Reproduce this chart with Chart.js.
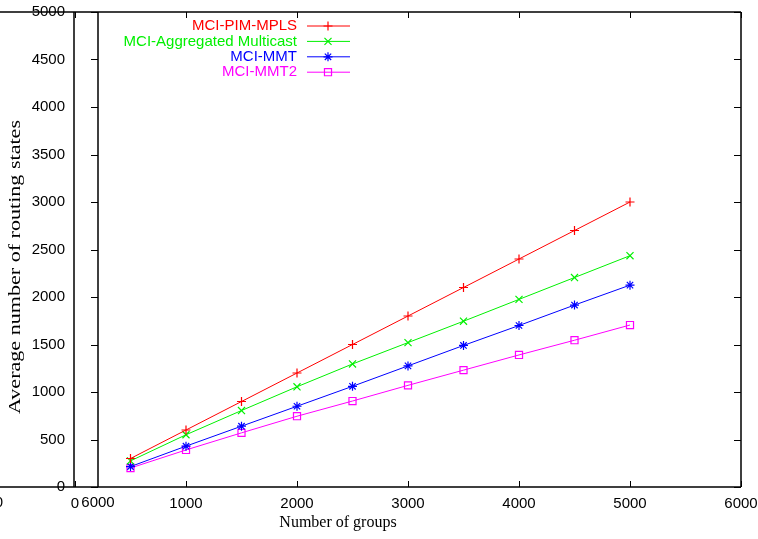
<!DOCTYPE html>
<html>
<head>
<meta charset="utf-8">
<script src="https://cdn.jsdelivr.net/npm/chart.js@4/dist/chart.umd.min.js"></script>
<style>
  html, body { margin: 0; padding: 0; background: #fff; }
  canvas { display: block; }
</style>
</head>
<body>
<canvas id="myChart" width="758" height="539"></canvas>
<script>
const groups = [500, 1000, 1500, 2000, 2500, 3000, 3500, 4000, 4500, 5000];
const pimMpls = [300, 600, 900, 1200, 1500, 1800, 2100, 2400, 2700, 3000];
const aggregated = [275, 550, 805, 1055, 1295, 1520, 1745, 1975, 2205, 2435];
const mmt = [215, 430, 640, 850, 1060, 1275, 1490, 1700, 1915, 2125];
const mmt2 = [200, 390, 570, 745, 905, 1070, 1230, 1390, 1545, 1705];
const xTicks = [0, 1000, 2000, 3000, 4000, 5000, 6000];
const yTicks = [0, 500, 1000, 1500, 2000, 2500, 3000, 3500, 4000, 4500, 5000];

const toPoints = (vals) => groups.map((g, i) => ({ x: g, y: vals[i] }));

const series = [
  { label: 'MCI-PIM-MPLS', data: pimMpls, color: '#ff0000', style: 'cross', r: 4.5 },
  { label: 'MCI-Aggregated Multicast', data: aggregated, color: '#00f000', style: 'crossRot', r: 5 },
  { label: 'MCI-MMT', data: mmt, color: '#0000ff', style: 'star', r: 4.5 },
  { label: 'MCI-MMT2', data: mmt2, color: '#ff00ff', style: 'rect', r: 5 }
];

// gnuplot style frame, ticks, titles and key
const gnuplotPlugin = {
  id: 'gnuplotPlugin',
  afterDraw(chart) {
    const { ctx, chartArea: a, scales } = chart;
    const ghostRight = a.left + 23;
    ctx.save();
    ctx.strokeStyle = '#000';
    ctx.lineWidth = 1.5;

    // frame
    ctx.beginPath();
    ctx.moveTo(0, a.top); ctx.lineTo(a.right, a.top);
    ctx.moveTo(0, a.bottom); ctx.lineTo(a.right, a.bottom);
    ctx.moveTo(a.left - 1, a.top); ctx.lineTo(a.left - 1, a.bottom);
    ctx.moveTo(ghostRight, a.top); ctx.lineTo(ghostRight, a.bottom);
    ctx.moveTo(a.right, a.top); ctx.lineTo(a.right, a.bottom);
    ctx.stroke();

    // tick marks
    ctx.lineWidth = 1;
    ctx.beginPath();
    xTicks.forEach(v => {
      const px = Math.round(scales.x.getPixelForValue(v)) + 0.5;
      ctx.moveTo(px, a.top); ctx.lineTo(px, a.top + 6);
      ctx.moveTo(px, a.bottom); ctx.lineTo(px, a.bottom - 6);
    });
    yTicks.forEach(v => {
      const py = Math.round(scales.y.getPixelForValue(v)) + 0.5;
      ctx.moveTo(ghostRight, py); ctx.lineTo(ghostRight - 7, py);
      ctx.moveTo(a.right, py); ctx.lineTo(a.right - 7, py);
    });
    ctx.stroke();

    // leftover labels of the overlapped frame
    ctx.fillStyle = '#000';
    ctx.font = '15px "Liberation Sans"';
    ctx.textAlign = 'center';
    ctx.textBaseline = 'middle';
    ctx.fillText('6000', ghostRight, a.bottom + 16);
    ctx.fillText('0', -1, a.bottom + 16);

    // axis titles
    ctx.font = '16px "Liberation Serif"';
    ctx.fillText('Number of groups', 338, a.bottom + 36);
    ctx.save();
    ctx.translate(16, 267);
    ctx.rotate(-Math.PI / 2);
    ctx.font = '17px "Liberation Serif"';
    const yTitle = 'Average number of routing states';
    ctx.scale(294 / ctx.measureText(yTitle).width, 1);
    ctx.fillText(yTitle, 0, 0);
    ctx.restore();

    // key
    ctx.font = '15px "Liberation Sans"';
    chart.data.datasets.forEach((ds, i) => {
      const y = a.top + 14 + i * 15.4;
      ctx.textAlign = 'right';
      ctx.fillStyle = ds.borderColor;
      ctx.fillText(ds.label, 297, y);
      ctx.strokeStyle = ds.borderColor;
      ctx.lineWidth = 1;
      ctx.beginPath();
      ctx.moveTo(307, y); ctx.lineTo(350, y);
      ctx.stroke();
      ctx.fillStyle = 'rgba(0,0,0,0)';
      ctx.lineWidth = 1.2;
      Chart.helpers.drawPoint(ctx, {
        pointStyle: ds.pointStyle, radius: ds.pointRadius, borderWidth: 1.2, rotation: 0
      }, 328, y);
    });
    ctx.restore();
  }
};

new Chart(document.getElementById('myChart'), {
  type: 'line',
  data: {
    datasets: series.map(s => ({
      label: s.label,
      data: toPoints(s.data),
      borderColor: s.color,
      backgroundColor: 'rgba(0,0,0,0)',
      borderWidth: 1,
      pointStyle: s.style,
      pointRadius: s.r,
      pointBorderWidth: 1.2,
      pointBorderColor: s.color,
      pointBackgroundColor: 'rgba(0,0,0,0)',
      tension: 0
    }))
  },
  options: {
    responsive: false,
    animation: false,
    layout: {
      padding: { top: 12, right: 17, bottom: 0, left: 0 }
    },
    plugins: {
      legend: { display: false },
      tooltip: { enabled: false }
    },
    scales: {
      x: {
        type: 'linear',
        min: 0,
        max: 6000,
        afterFit(scale) {
          scale.height = 52;
          scale.paddingLeft = 0;
          scale.paddingRight = 0;
        },
        afterBuildTicks(scale) { scale.ticks = xTicks.map(v => ({ value: v })); },
        grid: { display: false, drawTicks: false },
        border: { display: false },
        ticks: {
          autoSkip: false,
          maxRotation: 0,
          padding: 8,
          color: '#000',
          font: { family: 'Liberation Sans', size: 15 },
          callback: (v) => String(v)
        }
      },
      y: {
        min: 0,
        max: 5000,
        afterFit(scale) {
          scale.width = 75;
          scale.paddingTop = 0;
          scale.paddingBottom = 0;
        },
        afterBuildTicks(scale) { scale.ticks = yTicks.map(v => ({ value: v })); },
        grid: { display: false, drawTicks: false },
        border: { display: false },
        ticks: {
          autoSkip: false,
          padding: 10,
          color: '#000',
          font: { family: 'Liberation Sans', size: 15 },
          callback: (v) => String(v)
        }
      }
    }
  },
  plugins: [gnuplotPlugin]
});
</script>
</body>
</html>
